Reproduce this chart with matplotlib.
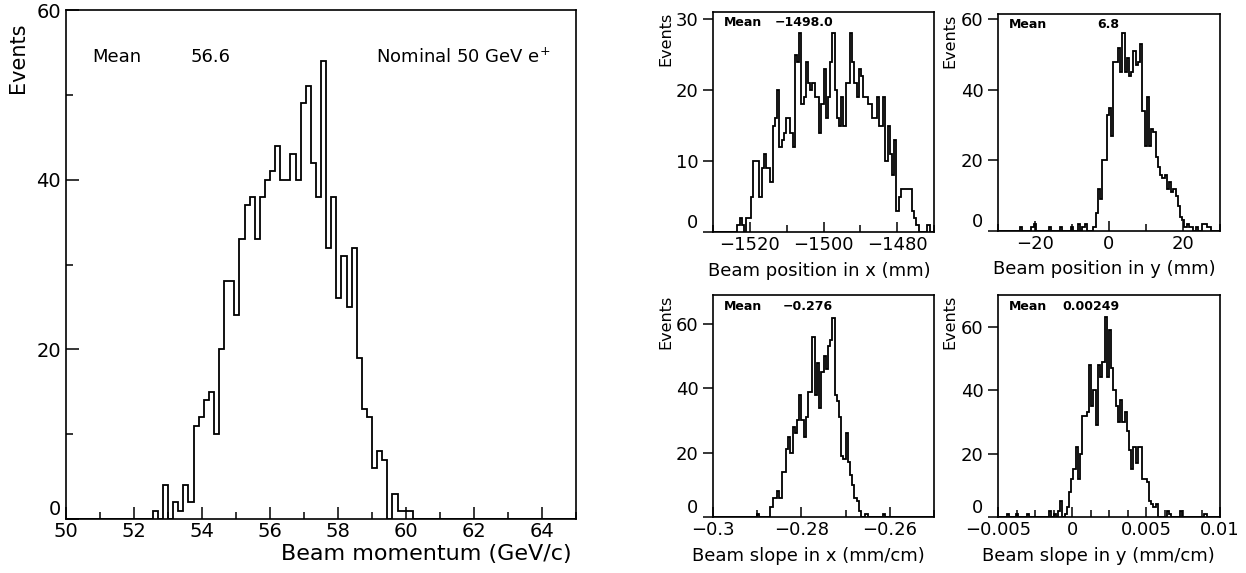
import matplotlib
matplotlib.use('Agg')
import matplotlib.pyplot as plt
from matplotlib.ticker import MultipleLocator, FuncFormatter
import numpy as np

plt.rcParams['font.family'] = ['DejaVu Sans']

# beam momentum, 100 bins 50..65 GeV/c
momentum_range = (50, 65)
momentum_counts = [
    0, 0, 0, 0, 0, 0, 0, 0, 0, 0,
    0, 0, 0, 0, 0, 0, 0, 1, 0, 4,
    0, 2, 1, 4, 2, 11, 12, 14, 15, 10,
    20, 28, 28, 24, 33, 37, 38, 33, 38, 40,
    41, 44, 40, 40, 43, 40, 49, 51, 42, 38,
    54, 32, 38, 26, 31, 25, 32, 19, 13, 12,
    6, 8, 7, 0, 3, 1, 1, 1, 0, 0,
    0, 0, 0, 0, 0, 0, 0, 0, 0, 0,
    0, 0, 0, 0, 0, 0, 0, 0, 0, 0,
    0, 0, 0, 0, 0, 0, 0, 0, 0, 0,
]

# beam position x (mm), 100 bins -1530..-1470
posx_range = (-1530, -1470)
posx_counts = [
    0, 0, 0, 0, 0, 0, 0, 0, 0, 0,
    0, 1, 2, 1, 0, 2, 2, 5, 10, 10,
    10, 5, 9, 11, 9, 9, 7, 15, 16, 20,
    12, 13, 14, 16, 16, 14, 12, 25, 24, 28,
    18, 19, 24, 21, 20, 21, 19, 19, 14, 18,
    23, 16, 19, 24, 28, 20, 16, 15, 19, 15,
    21, 21, 28, 24, 21, 19, 23, 22, 19, 19,
    18, 18, 16, 16, 19, 15, 15, 19, 10, 15,
    11, 8, 13, 3, 5, 6, 6, 6, 6, 6,
    3, 2, 1, 0, 0, 0, 0, 1, 0, 0,
]

# beam position y (mm), 100 bins -30..30
posy_range = (-30, 30)
posy_counts = [
    0, 0, 0, 0, 0, 0, 0, 0, 0, 0,
    1, 0, 0, 0, 0, 1, 2, 0, 0, 0,
    0, 0, 0, 1, 0, 0, 0, 0, 1, 0,
    0, 0, 0, 1, 0, 0, 2, 0, 1, 2,
    0, 0, 0, 1, 5, 12, 9, 20, 20, 33,
    35, 27, 48, 48, 52, 45, 56, 45, 49, 44,
    45, 51, 47, 48, 53, 34, 24, 38, 24, 29,
    28, 21, 18, 16, 15, 16, 12, 14, 11, 12,
    10, 7, 4, 3, 1, 2, 1, 1, 0, 1,
    0, 0, 2, 2, 1, 1, 0, 0, 0, 0,
]

# beam slope x (mm/cm), 100 bins -0.3..-0.25
slopex_range = (-0.3, -0.25)
slopex_counts = [
    0, 0, 0, 0, 0, 0, 0, 0, 0, 0,
    0, 0, 0, 0, 0, 0, 0, 0, 0, 0,
    1, 0, 0, 0, 0, 0, 3, 6, 6, 8,
    6, 14, 14, 21, 25, 20, 28, 26, 30, 38,
    30, 25, 31, 39, 39, 56, 38, 48, 34, 45,
    50, 46, 53, 55, 62, 38, 36, 31, 19, 18,
    26, 17, 13, 10, 6, 5, 2, 0, 0, 1,
    0, 0, 0, 0, 0, 0, 0, 1, 0, 0,
    0, 0, 0, 0, 0, 0, 0, 0, 0, 0,
    0, 0, 0, 0, 0, 0, 0, 0, 0, 0,
]

# beam slope y (mm/cm), 100 bins -0.005..0.01
slopey_range = (-0.005, 0.01)
slopey_counts = [
    0, 0, 0, 0, 1, 0, 0, 0, 1, 0,
    0, 0, 0, 1, 0, 0, 0, 0, 0, 0,
    0, 0, 0, 2, 0, 1, 0, 2, 5, 0,
    1, 3, 8, 12, 15, 22, 12, 20, 32, 32,
    33, 48, 35, 40, 29, 48, 44, 49, 63, 44,
    59, 47, 40, 35, 30, 37, 30, 33, 27, 21,
    15, 22, 17, 22, 22, 12, 12, 11, 5, 4,
    3, 4, 0, 0, 0, 0, 2, 1, 0, 0,
    0, 0, 2, 0, 0, 0, 0, 0, 0, 0,
    0, 0, 0, 1, 0, 0, 0, 0, 0, 0,
]

W, H = 1246, 573
fig = plt.figure(figsize=(W / 100, H / 100), dpi=100)


def rect(x0, y0, x1, y1):
    # pixel box -> figure fraction
    return [x0 / W, 1 - y1 / H, (x1 - x0) / W, (y1 - y0) / H]


def fmt(v, pos):
    s = '%g' % v
    return s.replace('-', '\u2212')


def hist(ax, counts, rng, ymax):
    edges = np.linspace(rng[0], rng[1], len(counts) + 1)
    ax.stairs(counts, edges, color='black', lw=1.3, baseline=0)
    ax.set_xlim(rng)
    ax.set_ylim(0, ymax)
    for s in ax.spines.values():
        s.set_linewidth(1.2)
    ax.xaxis.set_major_formatter(FuncFormatter(fmt))


all_axes = []

# big panel
ax = fig.add_axes(rect(66, 10, 576, 519))
hist(ax, momentum_counts, momentum_range, 60)
ax.xaxis.set_major_locator(MultipleLocator(2))
ax.xaxis.set_minor_locator(MultipleLocator(1))
ax.yaxis.set_major_locator(MultipleLocator(20))
ax.yaxis.set_minor_locator(MultipleLocator(10))
ax.tick_params(which='both', direction='in', labelsize=14, width=1.1)
ax.tick_params(which='major', length=9)
ax.tick_params(which='minor', length=5)
ax.tick_params(axis='x', pad=2)
ax.text(0.051, 0.908, 'Mean', transform=ax.transAxes, fontsize=13, va='center')
ax.text(0.245, 0.908, '56.6', transform=ax.transAxes, fontsize=13, va='center')
ax.text(0.949, 0.908, 'Nominal 50 GeV e$^{+}$', transform=ax.transAxes,
        fontsize=13, va='center', ha='right')
ax.text(-0.094, 0.975, 'Events', transform=ax.transAxes, fontsize=15,
        rotation=90, ha='center', va='top')
ax.text(0.992, -0.068, 'Beam momentum (GeV/c)', transform=ax.transAxes,
        fontsize=16, ha='right', va='center')
all_axes.append(ax)

# small panels
panels = [
    (rect(713, 12, 934, 232), posx_counts, posx_range, 31, 20, 10,
     '\u22121498.0', 0.28, 'Beam position in x (mm)', 0.48),
    (rect(998, 14, 1220, 231), posy_counts, posy_range, 61.5, 20, 10,
     '6.8', 0.446, 'Beam position in y (mm)', 0.478),
    (rect(713, 295, 934, 517), slopex_counts, slopex_range, 69, 0.02, 0.01,
     '\u22120.276', 0.317, 'Beam slope in x (mm/cm)', 0.43),
    (rect(998, 295, 1220, 517), slopey_counts, slopey_range, 70, 0.005, 0.00125,
     '0.00249', 0.288, 'Beam slope in y (mm/cm)', 0.45),
]

for r, counts, rng, ymax, xmaj, xmin, mean, mx, xlabel, lx in panels:
    a = fig.add_axes(r)
    hist(a, counts, rng, ymax)
    a.xaxis.set_major_locator(MultipleLocator(xmaj))
    a.xaxis.set_minor_locator(MultipleLocator(xmin))
    a.yaxis.set_major_locator(MultipleLocator(10 if ymax < 40 else 20))
    a.tick_params(axis='x', which='both', direction='in', labelsize=13, width=1.1, pad=3)
    a.tick_params(axis='x', which='major', length=7)
    a.tick_params(axis='x', which='minor', length=5)
    a.tick_params(axis='y', direction='out', length=7, labelsize=13, width=1.1)
    a.text(0.05, 0.95, 'Mean', transform=a.transAxes, fontsize=9,
           fontweight='bold', va='center')
    a.text(mx, 0.95, mean, transform=a.transAxes, fontsize=9,
           fontweight='bold', va='center')
    a.text(-0.215, 1.0, 'Events', transform=a.transAxes, fontsize=11.5,
           rotation=90, ha='center', va='top')
    a.text(lx, -0.175, xlabel, transform=a.transAxes, fontsize=13,
           ha='center', va='center')
    all_axes.append(a)

# lift the "0" on the y axes so it clears the first x tick label
fig.canvas.draw()
for a in all_axes:
    for lbl in a.get_yticklabels():
        if lbl.get_text() == '0':
            lbl.set_verticalalignment('bottom')

plt.savefig('out.png', dpi=100)
